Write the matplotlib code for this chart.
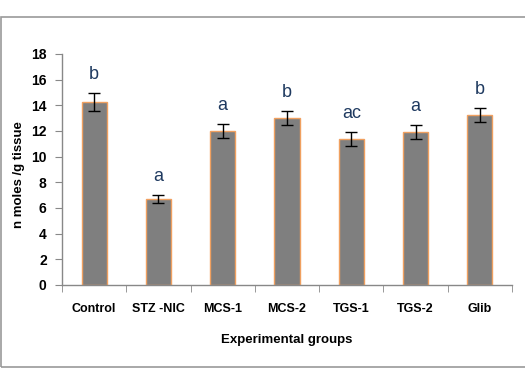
import matplotlib.pyplot as plt
from matplotlib.patches import Rectangle
import numpy as np

groups = ['Control', 'STZ -NIC', 'MCS-1', 'MCS-2', 'TGS-1', 'TGS-2', 'Glib']
values = [14.25, 6.7, 12.0, 13.0, 11.4, 11.95, 13.25]
errors = [0.7, 0.3, 0.55, 0.55, 0.55, 0.55, 0.55]
letters = ['b', 'a', 'a', 'b', 'ac', 'a', 'b']

plt.rcParams['font.family'] = ['Liberation Sans', 'DejaVu Sans']

fig = plt.figure(figsize=(5.25, 3.89), dpi=100)
ax = fig.add_axes([0.1181, 0.2674, 0.8571, 0.5938])

# chart-area frame
fig.patches.append(Rectangle((1 / 525, 1 - 367 / 389), 1.2, (367 - 17) / 389,
                             transform=fig.transFigure, fill=False,
                             edgecolor='#9a9a9a', linewidth=1.2))

x = np.arange(len(groups))
ax.bar(x, values, width=0.39, color='#7f7f7f', edgecolor='#f0a060', linewidth=1.0, zorder=2)
ax.errorbar(x, values, yerr=errors, fmt='none', ecolor='black', elinewidth=1.0,
            capsize=4, capthick=1.0, zorder=3)

for xi, v, e, lab in zip(x, values, errors, letters):
    ax.annotate(lab, (xi, v + e), xytext=(0, 7), textcoords='offset points',
                ha='center', va='bottom', fontsize=13, color='#1f3a60')

ax.set_xlim(-0.5, len(groups) - 0.5)
ax.set_ylim(0, 18)
ax.set_yticks(range(0, 19, 2))
ax.set_xticks(x)
ax.set_xticklabels(groups, fontsize=9, fontweight='bold')
ax.set_xticks(np.arange(-0.5, len(groups), 1), minor=True)
ax.tick_params(axis='x', which='major', length=0, pad=13)
ax.tick_params(axis='x', which='minor', length=5, color='#888888', direction='out')
ax.tick_params(axis='y', length=5, color='#888888', direction='out', labelsize=10, pad=6)
for t in ax.get_yticklabels():
    t.set_fontweight('bold')

for s in ['top', 'right']:
    ax.spines[s].set_visible(False)
for s in ['left', 'bottom']:
    ax.spines[s].set_color('#888888')
    ax.spines[s].set_linewidth(1.0)

ax.set_ylabel('n moles /g tissue', fontsize=9.5, fontweight='bold')
ax.yaxis.set_label_coords(-0.082, 0.476)
ax.set_xlabel('Experimental groups', fontsize=9.5, fontweight='bold', labelpad=14)

fig.savefig('out.png', dpi=100)
